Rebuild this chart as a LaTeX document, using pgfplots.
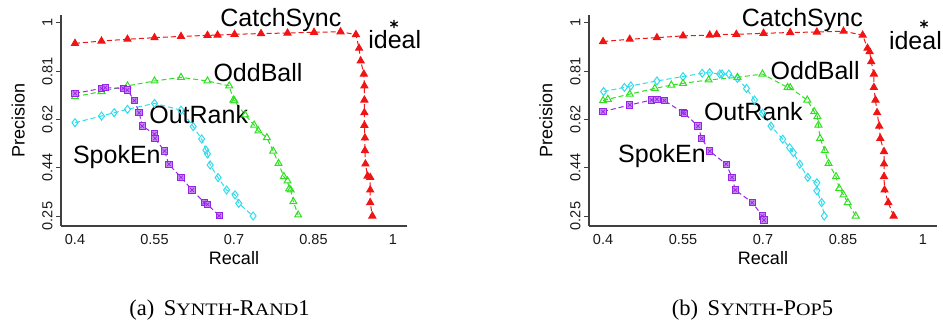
\documentclass[border=0pt]{standalone}
\usepackage{pgfplots}
\pgfplotsset{compat=1.18}
\usepackage{pgfplotstable}
\usepackage{fontspec}
\setmainfont{Liberation Serif}
\newfontfamily\arial{Liberation Sans}
\newfontfamily\scfont[FakeStretch=1.15]{Liberation Serif}
\definecolor{csc}{HTML}{F01414}
\definecolor{obc}{HTML}{2EE020}
\definecolor{orc}{HTML}{30DCEC}
\definecolor{spc}{HTML}{9624E8}
\definecolor{spf}{HTML}{C48AF2}

\pgfplotstableread{
x y
0.400 0.920
0.450 0.929
0.499 0.936
0.550 0.942
0.600 0.947
0.650 0.951
0.669 0.952
0.701 0.955
0.751 0.958
0.801 0.960
0.851 0.963
0.901 0.965
0.930 0.954
0.936 0.901
0.939 0.852
0.945 0.801
0.946 0.755
0.946 0.700
0.946 0.651
0.946 0.602
0.947 0.553
0.947 0.504
0.948 0.452
0.952 0.405
0.957 0.400
0.957 0.351
0.957 0.302
0.961 0.250
}\csL
\pgfplotstableread{
x y
0.400 0.713
0.450 0.733
0.499 0.755
0.550 0.774
0.600 0.788
0.650 0.774
0.691 0.755
0.699 0.700
0.701 0.697
0.721 0.642
0.738 0.603
0.746 0.580
0.762 0.554
0.774 0.502
0.784 0.454
0.794 0.403
0.801 0.386
0.804 0.355
0.807 0.351
0.812 0.306
0.821 0.254
}\obL
\pgfplotstableread{
x y
0.400 0.612
0.450 0.638
0.474 0.651
0.499 0.664
0.550 0.687
0.600 0.661
0.623 0.597
0.639 0.549
0.647 0.506
0.650 0.491
0.655 0.448
0.670 0.399
0.686 0.351
0.702 0.332
0.709 0.299
0.736 0.250
}\orL
\pgfplotstableread{
x y
0.400 0.726
0.450 0.745
0.457 0.748
0.491 0.745
0.499 0.739
0.512 0.698
0.521 0.651
0.527 0.599
0.550 0.568
0.551 0.551
0.569 0.502
0.577 0.451
0.600 0.400
0.621 0.351
0.644 0.302
0.650 0.295
0.672 0.251
}\spL
\pgfplotstableread{
x y
0.400 0.927
0.450 0.936
0.501 0.942
0.550 0.949
0.600 0.952
0.613 0.954
0.650 0.955
0.701 0.959
0.751 0.962
0.801 0.964
0.851 0.967
0.887 0.952
0.896 0.901
0.900 0.888
0.903 0.849
0.908 0.801
0.908 0.749
0.911 0.700
0.914 0.651
0.918 0.599
0.920 0.551
0.927 0.500
0.927 0.452
0.927 0.403
0.928 0.351
0.935 0.302
0.945 0.250
}\csR
\pgfplotstableread{
x y
0.400 0.698
0.409 0.703
0.450 0.723
0.497 0.745
0.528 0.758
0.550 0.765
0.598 0.778
0.652 0.788
0.699 0.801
0.746 0.749
0.751 0.748
0.783 0.700
0.796 0.655
0.802 0.636
0.804 0.603
0.807 0.551
0.816 0.504
0.823 0.454
0.837 0.403
0.843 0.357
0.851 0.332
0.859 0.302
0.874 0.250
}\obR
\pgfplotstableread{
x y
0.401 0.733
0.440 0.749
0.452 0.755
0.501 0.774
0.550 0.791
0.586 0.804
0.600 0.806
0.619 0.801
0.623 0.801
0.636 0.801
0.652 0.784
0.669 0.745
0.684 0.700
0.699 0.648
0.715 0.599
0.737 0.548
0.750 0.515
0.757 0.496
0.769 0.451
0.784 0.400
0.801 0.379
0.801 0.348
0.810 0.302
0.815 0.250
}\orR
\pgfplotstableread{
x y
0.400 0.655
0.450 0.681
0.491 0.700
0.501 0.703
0.515 0.698
0.550 0.651
0.553 0.648
0.578 0.599
0.585 0.551
0.600 0.502
0.631 0.451
0.642 0.400
0.648 0.351
0.680 0.302
0.699 0.250
0.702 0.234
}\spR

\tikzset{lbl/.style={anchor=base west, inner sep=0pt, font=\arial\fontsize{25}{25}\selectfont}}
\pgfplotsset{
  rplot/.style={
    scale only axis, height=211pt, anchor=south west,
    xmin=0.3736, xmax=1.0264, ymin=0.2112, ymax=1.030,
    axis lines=left,
    axis line style={-, line width=1.3pt, color=black!75},
    xtick={0.4,0.55,0.7,0.85,1},
    xticklabels={0.4,0.55,0.7,0.85,1},
    ytick={0.25,0.4375,0.625,0.8125,1},
    yticklabels={0.25,0.44,0.62,0.81,1},
    xtick style={draw=none},
    ytick style={line width=0.8pt, color=black!75},
    tick align=outside, major tick length=5pt,
    /pgf/number format/assume math mode=true,
    tick label style={font=\arial\fontsize{14.5}{14.5}\selectfont, text=black!90},
    yticklabel style={rotate=90, anchor=south},
    label style={font=\arial\fontsize{18}{18}\selectfont},
    xlabel={Recall},
    xlabel style={at={(axis description cs:0.5,-0.152)}, anchor=center},
    ylabel={Precision},
    ylabel style={at={(axis description cs:-0.124,0.5)}, anchor=center, rotate=0},
    clip=false,
  },
  csS/.style={csc, line width=1pt, dash pattern=on 5pt off 3pt, mark=triangle*, mark size=4pt, mark options={solid, fill=csc}},
  obS/.style={obc, line width=1pt, dash pattern=on 5pt off 3pt, mark=triangle, mark size=4pt, mark options={solid, line width=1pt}},
  orS/.style={orc, line width=1pt, dash pattern=on 5pt off 3pt, mark=diamond, mark size=4pt, mark options={solid, line width=1pt}},
  spS/.style={spc, line width=1pt, dash pattern=on 5pt off 3pt, mark=square*, mark size=3.2pt, mark options={solid, fill=spf, draw=spc, line width=0.9pt}},
  spX/.style={spc, only marks, mark=x, mark size=2.6pt, mark options={solid, line width=0.7pt}},
  idS/.style={black, only marks, mark=asterisk, mark size=4.2pt, mark options={line width=1.2pt}},
}

\begin{document}
\begin{tikzpicture}[x=1pt,y=1pt]
\useasboundingbox (0,0) rectangle (943,325);
\begin{axis}[rplot, width=346pt, at={(61pt,99pt)}]
  \addplot[orS] table {\orL};
  \addplot[obS] table {\obL};
  \addplot[spS] table {\spL};
  \addplot[spX] table {\spL};
  \addplot[csS] table {\csL};
  \addplot[idS] coordinates {(1.002,0.995)};
  \node[lbl] at (axis cs:0.674,0.987) {CatchSync};
  \node[lbl] at (axis cs:0.953,0.901) {ideal};
  \node[lbl] at (axis cs:0.661,0.771) {OddBall};
  \node[lbl] at (axis cs:0.540,0.610) {OutRank};
  \node[lbl] at (axis cs:0.396,0.454) {SpokEn};
\end{axis}
\begin{axis}[rplot, width=348pt, at={(589pt,99pt)}]
  \addplot[orS] table {\orR};
  \addplot[obS] table {\obR};
  \addplot[spS] table {\spR};
  \addplot[spX] table {\spR};
  \addplot[csS] table {\csR};
  \addplot[idS] coordinates {(1.002,0.995)};
  \node[lbl] at (axis cs:0.660,0.987) {CatchSync};
  \node[lbl] at (axis cs:0.936,0.897) {ideal};
  \node[lbl] at (axis cs:0.714,0.778) {OddBall};
  \node[lbl] at (axis cs:0.589,0.620) {OutRank};
  \node[lbl] at (axis cs:0.428,0.457) {SpokEn};
\end{axis}
\node[anchor=base] at (219.5,9.3) {\fontsize{22.5}{22.5}\selectfont (a)\hspace{4pt} S{\scfont\fontsize{17.5}{17.5}\selectfont YNTH}-R{\scfont\fontsize{17.5}{17.5}\selectfont AND}1};
\node[anchor=base] at (752.5,9.3) {\fontsize{22.5}{22.5}\selectfont (b)\hspace{4pt} S{\scfont\fontsize{17.5}{17.5}\selectfont YNTH}-P{\scfont\fontsize{17.5}{17.5}\selectfont OP}5};
\end{tikzpicture}
\end{document}
